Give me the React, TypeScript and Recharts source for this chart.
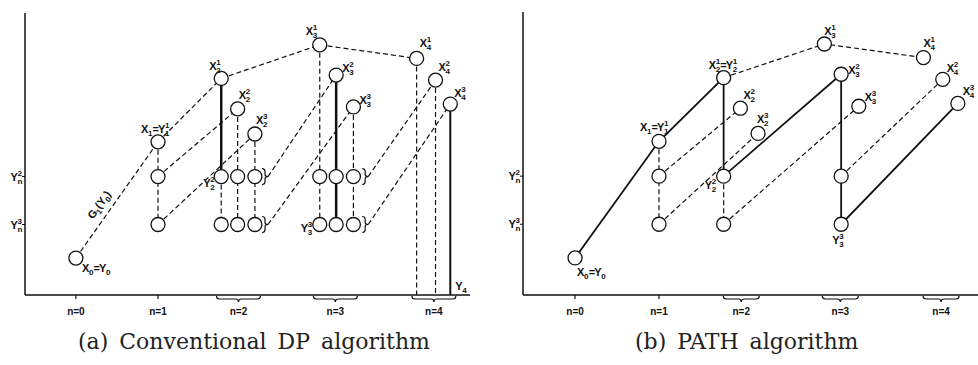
import React from "react";
import { ScatterChart, Scatter, XAxis, YAxis } from "recharts";

// ─── Data ─────────────────────────────────────────────────────────────────────

// stage positions on the n axis and the two lower state levels Y_n^2, Y_n^3
const stageTicks = [0, 1, 1.98, 3.16, 4.36];
const stageNames = ["n=0", "n=1", "n=2", "n=3", "n=4"];
const levelTicks = [2.5, 4.2];
const levelNames = ["3", "2"];

// candidate columns (k = 1..3) at stages 2, 3, 4
const stage2Cols = [1.77, 1.97, 2.18];
const stage3Cols = [2.97, 3.17, 3.38];
const stage4Cols = [4.15, 4.38, 4.56];

// state values of X_n^k (k = 1..3)
const stage2Tops = [7.68, 6.6, 5.71];
const stage3Tops = [8.87, 7.8, 6.67];
const stage4Tops = [8.39, 7.62, 6.77];

const startValue = 1.31;
const stage1Value = 5.43;
const braceCols = [2.34, 3.56];
const g1Anchor = { x: 0.32, y: 3.12 };

// ─── Points ───────────────────────────────────────────────────────────────────

type Pt = { id: string; x: number; y: number };
const pt = (id: string, x: number, y: number): Pt => ({ id, x, y });
const [L3, L2] = levelTicks;

const shared: Pt[] = [
  pt("x0", 0, startValue),
  pt("x1", 1, stage1Value),
  pt("y1_2", 1, L2),
  pt("y1_3", 1, L3),
  ...stage2Cols.map((x, i) => pt(`x2_${i + 1}`, x, stage2Tops[i])),
  ...stage3Cols.map((x, i) => pt(`x3_${i + 1}`, x, stage3Tops[i])),
  ...stage4Cols.map((x, i) => pt(`x4_${i + 1}`, x, stage4Tops[i])),
];

// conventional DP: every candidate is evaluated on every lower level
const dpRows: Pt[] = [
  ...stage2Cols.flatMap((x, i) => [pt(`r2_${i + 1}_2`, x, L2), pt(`r2_${i + 1}_3`, x, L3)]),
  ...stage3Cols.flatMap((x, i) => [pt(`r3_${i + 1}_2`, x, L2), pt(`r3_${i + 1}_3`, x, L3)]),
];
const dpBase: Pt[] = stage4Cols.map((x, i) => pt(`b4_${i + 1}`, x, 0));
const dpBraces: Pt[] = braceCols.flatMap((x, i) => [
  pt(`br${i + 2}_2`, x, L2),
  pt(`br${i + 2}_3`, x, L3),
]);

// PATH: only the chosen candidate is expanded
const pathRows: Pt[] = [
  pt("y2_2", stage2Cols[0], L2),
  pt("y2_3", stage2Cols[0], L3),
  pt("y3_2", stage3Cols[1], L2),
  pt("y3_3", stage3Cols[1], L3),
];

const dpDashed = [
  ["x0", "x1"],
  ["x1", "y1_2", "y1_3"],
  ["x1", "x2_1"],
  ["y1_2", "x2_2"],
  ["y1_3", "x2_3"],
  ["x2_1", "x3_1", "x4_1"],
  ["r2_1_2", "r2_1_3"],
  ["x2_2", "r2_2_2", "r2_2_3"],
  ["x2_3", "r2_3_2", "r2_3_3"],
  ["br2_2", "x3_2"],
  ["br2_3", "x3_3"],
  ["x3_1", "r3_1_2", "r3_1_3"],
  ["x3_3", "r3_3_2", "r3_3_3"],
  ["br3_2", "x4_2"],
  ["br3_3", "x4_3"],
  ["x4_1", "b4_1"],
  ["x4_2", "b4_2"],
];
const dpSolid = [
  ["x2_1", "r2_1_2"],
  ["x3_2", "r3_2_2", "r3_2_3"],
  ["x4_3", "b4_3"],
];

const pathDashed = [
  ["x1", "y1_2", "y1_3"],
  ["y1_2", "x2_2"],
  ["y1_3", "x2_3"],
  ["y2_2", "y2_3"],
  ["y2_3", "x3_3"],
  ["x2_1", "x3_1", "x4_1"],
  ["y3_2", "x4_2"],
];
const pathSolid = [["x0", "x1", "x2_1", "y2_2", "x3_2", "y3_2", "y3_3", "x4_3"]];

// ─── Label placement (px offsets from the point) ──────────────────────────────

type Lab = { text: string; dx: number; dy: number; rot?: number };

const dpLabels: Record<string, Lab> = {
  x0: { text: "X_0=Y_0", dx: 6, dy: 14 },
  x1: { text: "X_1=Y_1^1", dx: -17, dy: -9 },
  x2_1: { text: "X_2^1", dx: -12, dy: -8 },
  x2_2: { text: "X_2^2", dx: 1, dy: -10 },
  x2_3: { text: "X_2^3", dx: 1, dy: -10 },
  x3_1: { text: "X_3^1", dx: -14, dy: -10 },
  x3_2: { text: "X_3^2", dx: 6, dy: -3 },
  x3_3: { text: "X_3^3", dx: 6, dy: -3 },
  x4_1: { text: "X_4^1", dx: 3, dy: -11 },
  x4_2: { text: "X_4^2", dx: 3, dy: -9 },
  x4_3: { text: "X_4^3", dx: 4, dy: -7 },
  r2_1_2: { text: "Y_2^2", dx: -18, dy: 10 },
  r3_1_3: { text: "Y_3^3", dx: -19, dy: 7 },
  b4_3: { text: "Y_4", dx: 5, dy: -5 },
  g1: { text: "G_1(Y_0)", dx: 0, dy: 0, rot: -54 },
};

const pathLabels: Record<string, Lab> = {
  x0: { text: "X_0=Y_0", dx: 2, dy: 18 },
  x1: { text: "X_1=Y_1^1", dx: -19, dy: -10 },
  x2_1: { text: "X_2^1=Y_2^1", dx: -15, dy: -9 },
  x2_2: { text: "X_2^2", dx: 3, dy: -9 },
  x2_3: { text: "X_2^3", dx: -1, dy: -10 },
  x3_1: { text: "X_3^1", dx: 0, dy: -9 },
  x3_2: { text: "X_3^2", dx: 7, dy: 0 },
  x3_3: { text: "X_3^3", dx: 6, dy: -5 },
  x4_1: { text: "X_4^1", dx: 0, dy: -11 },
  x4_2: { text: "X_4^2", dx: 4, dy: -7 },
  x4_3: { text: "X_4^3", dx: 5, dy: -8 },
  y2_2: { text: "Y_2^2", dx: -19, dy: 13 },
  y3_3: { text: "Y_3^3", dx: -9, dy: 20 },
};

// ─── Drawing helpers ──────────────────────────────────────────────────────────

const INK = "#111";
const SANS = "'Liberation Sans', Arial, sans-serif";
const GLYPH: Record<string, number> = { X: 7, Y: 7, G: 8, "=": 5.5, "(": 3.6, ")": 3.6 };

type Tok = { b: string; sub?: string; sup?: string };
function parse(s: string): Tok[] {
  const out: Tok[] = [];
  for (let i = 0; i < s.length; i++) {
    const c = s[i];
    if (c === "_") out[out.length - 1].sub = s[++i];
    else if (c === "^") out[out.length - 1].sup = s[++i];
    else out.push({ b: c });
  }
  return out;
}

function Sym({ x, y, text, anchor = "start" }: { x: number; y: number; text: string; anchor?: string }) {
  const toks = parse(text);
  const adv = (t: Tok) => (GLYPH[t.b] ?? 6) + (t.sub || t.sup ? 4.6 : 0);
  const total = toks.reduce((s, t) => s + adv(t), 0);
  let cx = anchor === "end" ? x - total : anchor === "middle" ? x - total / 2 : x;
  const els: React.ReactNode[] = [];
  toks.forEach((t, i) => {
    els.push(<text key={`b${i}`} x={cx} y={y} fontSize={11}>{t.b}</text>);
    cx += GLYPH[t.b] ?? 6;
    if (t.sup) els.push(<text key={`p${i}`} x={cx} y={y - 5} fontSize={8}>{t.sup}</text>);
    if (t.sub) els.push(<text key={`s${i}`} x={cx} y={y + 3} fontSize={8}>{t.sub}</text>);
    if (t.sub || t.sup) cx += 4.6;
  });
  return (
    <g fontFamily={SANS} fontWeight={700} fill={INK}>
      {els}
    </g>
  );
}

const Empty = () => <g />;

const NodeShape = (p: any) => (
  <circle cx={p.cx} cy={p.cy} r={7} fill="#fff" stroke={INK} strokeWidth={1.3} />
);

const BraceShape = (p: any) => (
  <path
    d={`M ${p.cx - 6} ${p.cy - 8} q 3 0 3 3 v 3 q 0 2 3 2 q -3 0 -3 2 v 3 q 0 3 -3 3`}
    fill="none"
    stroke={INK}
    strokeWidth={1.2}
  />
);

const labelShape = (labels: Record<string, Lab>) => (p: any) => {
  const l = labels[p.payload.id];
  if (!l) return <g />;
  if (l.rot) {
    return (
      <g transform={`rotate(${l.rot} ${p.cx} ${p.cy})`}>
        <Sym x={p.cx} y={p.cy} text={l.text} anchor="middle" />
      </g>
    );
  }
  return <Sym x={p.cx + l.dx} y={p.cy + l.dy} text={l.text} />;
};

function StageTick({ x, y, index, braceW }: any) {
  const w = braceW / 2;
  return (
    <g>
      {index < 2 ? (
        <line x1={x} y1={y} x2={x} y2={y + 4} stroke={INK} strokeWidth={1.2} />
      ) : (
        <path
          d={`M ${x - w} ${y + 1} q 0 3 3 3 H ${x - 3} q 3 0 3 3 q 0 -3 3 -3 H ${x + w - 3} q 3 0 3 -3`}
          fill="none"
          stroke={INK}
          strokeWidth={1.2}
        />
      )}
      <text x={x} y={y + 20} textAnchor="middle" fontFamily={SANS} fontWeight={700} fontSize={10} fill={INK}>
        {stageNames[index]}
      </text>
    </g>
  );
}

function LevelTick({ x, y, index }: any) {
  return (
    <g>
      <line x1={x - 3} y1={y} x2={x} y2={y} stroke={INK} strokeWidth={1} />
      <Sym x={x - 3} y={y + 4} text={`Y_n^${levelNames[index]}`} anchor="end" />
    </g>
  );
}

// ─── Panel ────────────────────────────────────────────────────────────────────

interface PanelProps {
  left: number;
  top: number;
  axisW: number;
  right: number;
  braceW: number;
  points: Pt[];
  nodes: Pt[];
  dashed: string[][];
  solid: string[][];
  solidW: number[];
  braces: Pt[];
  labels: Record<string, Lab>;
}

function Panel(props: PanelProps) {
  const { left, top, axisW, right, braceW, points, nodes, dashed, solid, solidW, braces, labels } = props;
  const byId: Record<string, Pt> = {};
  points.forEach((p) => (byId[p.id] = p));
  const labelPts = points.filter((p) => labels[p.id]);

  return (
    <div style={{ position: "absolute", left, top: 0 }}>
      <ScatterChart width={489} height={320} margin={{ top, right, bottom: 0, left: 0 }}>
        <XAxis
          type="number"
          dataKey="x"
          domain={[-0.62, 4.8]}
          ticks={stageTicks}
          allowDataOverflow
          axisLine={{ stroke: INK, strokeWidth: 1.5 }}
          tickLine={false}
          tickSize={0}
          tickMargin={0}
          height={25}
          interval={0}
          tick={<StageTick braceW={braceW} />}
        />
        <YAxis
          type="number"
          dataKey="y"
          domain={[0, 10]}
          ticks={levelTicks}
          allowDataOverflow
          axisLine={{ stroke: INK, strokeWidth: 1.5 }}
          tickLine={false}
          tickSize={0}
          tickMargin={0}
          width={axisW}
          interval={0}
          tick={<LevelTick />}
        />
        {dashed.map((path, i) => (
          <Scatter
            key={`d${i}`}
            data={path.map((id) => byId[id])}
            fill={INK}
            line={{ stroke: INK, strokeWidth: 1.2, strokeDasharray: "5 3" }}
            shape={Empty}
            isAnimationActive={false}
          />
        ))}
        {solid.map((path, i) => (
          <Scatter
            key={`s${i}`}
            data={path.map((id) => byId[id])}
            fill={INK}
            line={{ stroke: INK, strokeWidth: solidW[i] }}
            shape={Empty}
            isAnimationActive={false}
          />
        ))}
        {braces.length > 0 && (
          <Scatter data={braces} fill={INK} shape={BraceShape} isAnimationActive={false} />
        )}
        <Scatter data={nodes} fill="#fff" shape={NodeShape} isAnimationActive={false} />
        <Scatter data={labelPts} fill={INK} shape={labelShape(labels)} isAnimationActive={false} />
      </ScatterChart>
    </div>
  );
}

// ─── App ──────────────────────────────────────────────────────────────────────

const captionStyle: React.CSSProperties = {
  position: "absolute",
  top: 331,
  fontFamily: "'DejaVu Serif', serif",
  fontSize: 22,
  lineHeight: "22px",
  wordSpacing: 4,
  color: "#222",
  whiteSpace: "nowrap",
};

export default function App() {
  const dpPoints = [...shared, ...dpRows, ...dpBase, ...dpBraces, pt("g1", g1Anchor.x, g1Anchor.y)];
  const pathPoints = [...shared, ...pathRows];

  return (
    <div style={{ position: "absolute", left: 0, top: 0, width: 978, height: 365, background: "#fff" }}>
      <Panel
        left={0}
        top={13}
        axisW={25}
        right={19}
        braceW={44}
        points={dpPoints}
        nodes={[...shared, ...dpRows]}
        dashed={dpDashed}
        solid={dpSolid}
        solidW={[2.5, 2.5, 2]}
        braces={dpBraces}
        labels={dpLabels}
      />
      <Panel
        left={489}
        top={12}
        axisW={34}
        right={0}
        braceW={36}
        points={pathPoints}
        nodes={pathPoints}
        dashed={pathDashed}
        solid={pathSolid}
        solidW={[1.8]}
        braces={[]}
        labels={pathLabels}
      />
      <div style={{ ...captionStyle, left: 78 }}>(a) Conventional DP algorithm</div>
      <div style={{ ...captionStyle, left: 635 }}>(b) PATH algorithm</div>
    </div>
  );
}
